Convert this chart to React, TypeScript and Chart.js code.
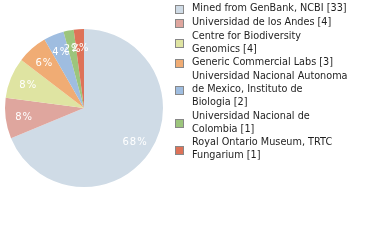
import React, { useEffect, useRef } from "react";
import { Chart, registerables } from "chart.js";

Chart.register(...registerables);

const categories: string[][] = [
  ["Mined from GenBank, NCBI [33]"],
  ["Universidad de los Andes [4]"],
  ["Centre for Biodiversity", "Genomics [4]"],
  ["Generic Commercial Labs [3]"],
  ["Universidad Nacional Autonoma", "de Mexico, Instituto de", "Biologia [2]"],
  ["Universidad Nacional de", "Colombia [1]"],
  ["Royal Ontario Museum, TRTC", "Fungarium [1]"],
];
const values: number[] = [33, 4, 4, 3, 2, 1, 1];
const colors: string[] = [
  "#cfdbe6",
  "#dfa69e",
  "#dfe4a2",
  "#f0ac74",
  "#9fbde0",
  "#9cc57c",
  "#de7258",
];

const LABEL_FONT = "10px 'DejaVu Sans', sans-serif";
const LEGEND_FONT = "9.7px 'DejaVu Sans', sans-serif";

const sliceLabels = {
  id: "sliceLabels",
  afterDatasetsDraw(chart: any) {
    const ctx = chart.ctx;
    const meta = chart.getDatasetMeta(0);
    const total = values.reduce((a, b) => a + b, 0);
    ctx.save();
    ctx.font = LABEL_FONT;
    ctx.fillStyle = "#ffffff";
    ctx.textAlign = "center";
    ctx.textBaseline = "middle";
    try {
      (ctx as any).letterSpacing = "1px";
    } catch (e) {}
    meta.data.forEach((arc: any, i: number) => {
      const p = arc.getProps(["x", "y", "startAngle", "endAngle", "outerRadius"], true);
      const mid = (p.startAngle + p.endAngle) / 2;
      const r = p.outerRadius * 0.77;
      const pct = Math.floor((values[i] / total) * 100) + "%";
      ctx.fillText(pct, p.x + Math.cos(mid) * r + 0.5, p.y + Math.sin(mid) * r + 1);
    });
    ctx.restore();
  },
};

const sideLegend = {
  id: "sideLegend",
  afterDraw(chart: any) {
    const ctx = chart.ctx;
    const boxX = 175;
    const boxSize = 9;
    const textX = 192;
    const lineH = 12.9;
    const gap = 0.9;
    let y = 8.5;
    ctx.save();
    ctx.font = LEGEND_FONT;
    ctx.textAlign = "left";
    ctx.textBaseline = "middle";
    categories.forEach((lines, i) => {
      const first = y;
      lines.forEach((t, k) => {
        ctx.fillStyle = "#1e1e1e";
        ctx.fillText(t, textX, y + k * lineH);
      });
      const last = y + (lines.length - 1) * lineH;
      const cy = (first + last) / 2 + 1;
      ctx.fillStyle = colors[i];
      ctx.fillRect(boxX, Math.round(cy - boxSize / 2), boxSize, boxSize);
      ctx.strokeStyle = "#888888";
      ctx.lineWidth = 1;
      ctx.strokeRect(boxX + 0.5, Math.round(cy - boxSize / 2) + 0.5, boxSize - 1, boxSize - 1);
      y += lines.length * lineH + gap;
    });
    ctx.restore();
  },
};

export default function App() {
  const ref = useRef<HTMLCanvasElement>(null);
  useEffect(() => {
    if (!ref.current) return;
    const chart = new Chart(ref.current, {
      type: "pie",
      data: {
        labels: categories.map((l) => l.join(" ")),
        datasets: [
          {
            data: values,
            backgroundColor: colors,
            borderWidth: 0,
          },
        ],
      },
      options: {
        responsive: false,
        animation: false,
        layout: { padding: { left: 5, right: 217, top: 29, bottom: 53 } },
        plugins: {
          legend: { display: false },
          tooltip: { enabled: false },
        },
      },
      plugins: [sliceLabels, sideLegend],
    });
    return () => chart.destroy();
  }, []);
  return (
    <div style={{ position: "absolute", left: 0, top: 0, width: 380, height: 240, background: "#fff" }}>
      <canvas ref={ref} width={380} height={240} />
    </div>
  );
}
